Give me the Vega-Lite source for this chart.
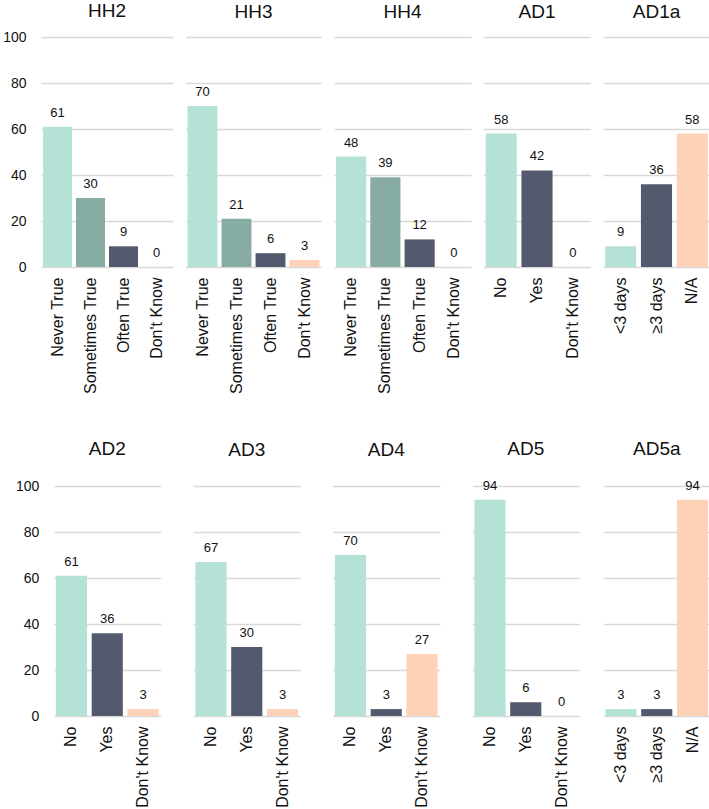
{
  "$schema": "https://vega.github.io/schema/vega-lite/v6.json",
  "padding": {"left": 2, "top": 2, "right": 0, "bottom": 0},
  "background": "white",
  "data": {"values": [
    {"q": "HH2", "cat": "Never True", "v": 61},
    {"q": "HH2", "cat": "Sometimes True", "v": 30},
    {"q": "HH2", "cat": "Often True", "v": 9},
    {"q": "HH2", "cat": "Don't Know", "v": 0},
    {"q": "HH3", "cat": "Never True", "v": 70},
    {"q": "HH3", "cat": "Sometimes True", "v": 21},
    {"q": "HH3", "cat": "Often True", "v": 6},
    {"q": "HH3", "cat": "Don't Know", "v": 3},
    {"q": "HH4", "cat": "Never True", "v": 48},
    {"q": "HH4", "cat": "Sometimes True", "v": 39},
    {"q": "HH4", "cat": "Often True", "v": 12},
    {"q": "HH4", "cat": "Don't Know", "v": 0},
    {"q": "AD1", "cat": "No", "v": 58},
    {"q": "AD1", "cat": "Yes", "v": 42},
    {"q": "AD1", "cat": "Don't Know", "v": 0},
    {"q": "AD1a", "cat": "<3 days", "v": 9},
    {"q": "AD1a", "cat": "≥3 days", "v": 36},
    {"q": "AD1a", "cat": "N/A", "v": 58},
    {"q": "AD2", "cat": "No", "v": 61},
    {"q": "AD2", "cat": "Yes", "v": 36},
    {"q": "AD2", "cat": "Don't Know", "v": 3},
    {"q": "AD3", "cat": "No", "v": 67},
    {"q": "AD3", "cat": "Yes", "v": 30},
    {"q": "AD3", "cat": "Don't Know", "v": 3},
    {"q": "AD4", "cat": "No", "v": 70},
    {"q": "AD4", "cat": "Yes", "v": 3},
    {"q": "AD4", "cat": "Don't Know", "v": 27},
    {"q": "AD5", "cat": "No", "v": 94},
    {"q": "AD5", "cat": "Yes", "v": 6},
    {"q": "AD5", "cat": "Don't Know", "v": 0},
    {"q": "AD5a", "cat": "<3 days", "v": 3},
    {"q": "AD5a", "cat": "≥3 days", "v": 3},
    {"q": "AD5a", "cat": "N/A", "v": 94}
  ]},
  "config": {
    "font": "Liberation Sans",
    "view": {"stroke": null},
    "axisX": {"labelAngle": -90, "labelFontSize": 16, "labelColor": "#111111", "domain": false, "ticks": false, "labelPadding": 10, "title": null, "grid": false, "labelLimit": 300},
    "axisY": {"labels": false, "labelFontSize": 14, "labelColor": "#111111", "labelPadding": 15, "domain": false, "ticks": false, "grid": true, "gridColor": "#d9d9d9", "gridWidth": 1.5, "title": null, "values": [0, 20, 40, 60, 80, 100]},
    "title": {"fontSize": 19, "fontWeight": "normal", "color": "#111111", "baseline": "alphabetic", "frame": "group", "anchor": "middle"}
  },
  "center": true,
  "spacing": 46,
  "vconcat": [
    {
      "spacing": 12.5,
      "bounds": "flush",
      "hconcat": [
        {"width": 132, "height": 230, "title": {"text": "HH2", "offset": 9},
         "transform": [{"filter": "datum.q === 'HH2'"}],
         "encoding": {"x": {"field": "cat", "type": "nominal", "sort": null, "scale": {"paddingInner": 0.12, "paddingOuter": 0.06}},
                      "y": {"field": "v", "type": "quantitative", "scale": {"domain": [0, 100]}, "axis": {"labels": true}}},
         "layer": [
           {"mark": {"type": "bar"}, "encoding": {"color": {"field": "cat", "type": "nominal", "legend": null, "scale": {"domain": ["Never True", "Sometimes True", "Often True", "Don't Know", "No", "Yes", "<3 days", "≥3 days", "N/A"], "range": ["#b5e2d7", "#86aca4", "#535a6e", "#fdd2b7", "#b5e2d7", "#535a6e", "#b5e2d7", "#535a6e", "#fdd2b7"]}}}},
           {"mark": {"type": "text", "dy": -10, "baseline": "alphabetic", "fontSize": 13, "color": "#111111"}, "encoding": {"text": {"field": "v", "type": "quantitative"}}}
         ]},
        {"width": 136, "height": 230, "title": {"text": "HH3", "offset": 15.25},
         "transform": [{"filter": "datum.q === 'HH3'"}],
         "encoding": {"x": {"field": "cat", "type": "nominal", "sort": null, "scale": {"paddingInner": 0.12, "paddingOuter": 0.06}},
                      "y": {"field": "v", "type": "quantitative", "scale": {"domain": [0, 100]}}},
         "layer": [
           {"mark": {"type": "bar"}, "encoding": {"color": {"field": "cat", "type": "nominal", "legend": null, "scale": {"domain": ["Never True", "Sometimes True", "Often True", "Don't Know", "No", "Yes", "<3 days", "≥3 days", "N/A"], "range": ["#b5e2d7", "#86aca4", "#535a6e", "#fdd2b7", "#b5e2d7", "#535a6e", "#b5e2d7", "#535a6e", "#fdd2b7"]}}}},
           {"mark": {"type": "text", "dy": -10, "baseline": "alphabetic", "fontSize": 13, "color": "#111111"}, "encoding": {"text": {"field": "v", "type": "quantitative"}}}
         ]},
        {"width": 137, "height": 230, "title": {"text": "HH4", "offset": 15.25},
         "transform": [{"filter": "datum.q === 'HH4'"}],
         "encoding": {"x": {"field": "cat", "type": "nominal", "sort": null, "scale": {"paddingInner": 0.12, "paddingOuter": 0.06}},
                      "y": {"field": "v", "type": "quantitative", "scale": {"domain": [0, 100]}}},
         "layer": [
           {"mark": {"type": "bar"}, "encoding": {"color": {"field": "cat", "type": "nominal", "legend": null, "scale": {"domain": ["Never True", "Sometimes True", "Often True", "Don't Know", "No", "Yes", "<3 days", "≥3 days", "N/A"], "range": ["#b5e2d7", "#86aca4", "#535a6e", "#fdd2b7", "#b5e2d7", "#535a6e", "#b5e2d7", "#535a6e", "#fdd2b7"]}}}},
           {"mark": {"type": "text", "dy": -10, "baseline": "alphabetic", "fontSize": 13, "color": "#111111"}, "encoding": {"text": {"field": "v", "type": "quantitative"}}}
         ]},
        {"width": 107, "height": 230, "title": {"text": "AD1", "offset": 15.25},
         "transform": [{"filter": "datum.q === 'AD1'"}],
         "encoding": {"x": {"field": "cat", "type": "nominal", "sort": null, "scale": {"paddingInner": 0.13, "paddingOuter": 0.06}},
                      "y": {"field": "v", "type": "quantitative", "scale": {"domain": [0, 100]}}},
         "layer": [
           {"mark": {"type": "bar"}, "encoding": {"color": {"field": "cat", "type": "nominal", "legend": null, "scale": {"domain": ["Never True", "Sometimes True", "Often True", "Don't Know", "No", "Yes", "<3 days", "≥3 days", "N/A"], "range": ["#b5e2d7", "#86aca4", "#535a6e", "#fdd2b7", "#b5e2d7", "#535a6e", "#b5e2d7", "#535a6e", "#fdd2b7"]}}}},
           {"mark": {"type": "text", "dy": -10, "baseline": "alphabetic", "fontSize": 13, "color": "#111111"}, "encoding": {"text": {"field": "v", "type": "quantitative"}}}
         ]},
        {"width": 107, "height": 230, "title": {"text": "AD1a", "offset": 15.25},
         "transform": [{"filter": "datum.q === 'AD1a'"}],
         "encoding": {"x": {"field": "cat", "type": "nominal", "sort": null, "scale": {"paddingInner": 0.13, "paddingOuter": 0.06}},
                      "y": {"field": "v", "type": "quantitative", "scale": {"domain": [0, 100]}, "axis": {"orient": "right", "ticks": true, "tickSize": 13, "tickOpacity": 0}}},
         "layer": [
           {"mark": {"type": "bar"}, "encoding": {"color": {"field": "cat", "type": "nominal", "legend": null, "scale": {"domain": ["Never True", "Sometimes True", "Often True", "Don't Know", "No", "Yes", "<3 days", "≥3 days", "N/A"], "range": ["#b5e2d7", "#86aca4", "#535a6e", "#fdd2b7", "#b5e2d7", "#535a6e", "#b5e2d7", "#535a6e", "#fdd2b7"]}}}},
           {"mark": {"type": "text", "dy": -10, "baseline": "alphabetic", "fontSize": 13, "color": "#111111"}, "encoding": {"text": {"field": "v", "type": "quantitative"}}}
         ]}
      ]
    },
    {
      "spacing": 23.5,
      "hconcat": [
        {
          "spacing": 32.5,
          "bounds": "flush",
          "hconcat": [
            {"width": 107, "height": 230, "title": {"text": "AD2", "offset": 20},
             "transform": [{"filter": "datum.q === 'AD2'"}],
             "encoding": {"x": {"field": "cat", "type": "nominal", "sort": null, "scale": {"paddingInner": 0.13, "paddingOuter": 0.06}},
                          "y": {"field": "v", "type": "quantitative", "scale": {"domain": [0, 100]}, "axis": {"labels": true}}},
             "layer": [
               {"mark": {"type": "bar"}, "encoding": {"color": {"field": "cat", "type": "nominal", "legend": null, "scale": {"domain": ["Never True", "Sometimes True", "Often True", "Don't Know", "No", "Yes", "<3 days", "≥3 days", "N/A"], "range": ["#b5e2d7", "#86aca4", "#535a6e", "#fdd2b7", "#b5e2d7", "#535a6e", "#b5e2d7", "#535a6e", "#fdd2b7"]}}}},
               {"mark": {"type": "text", "dy": -10, "baseline": "alphabetic", "fontSize": 13, "color": "#111111"}, "encoding": {"text": {"field": "v", "type": "quantitative"}}}
             ]},
            {"width": 107, "height": 230, "title": {"text": "AD3", "offset": 26.25},
             "transform": [{"filter": "datum.q === 'AD3'"}],
             "encoding": {"x": {"field": "cat", "type": "nominal", "sort": null, "scale": {"paddingInner": 0.13, "paddingOuter": 0.06}},
                          "y": {"field": "v", "type": "quantitative", "scale": {"domain": [0, 100]}}},
             "layer": [
               {"mark": {"type": "bar"}, "encoding": {"color": {"field": "cat", "type": "nominal", "legend": null, "scale": {"domain": ["Never True", "Sometimes True", "Often True", "Don't Know", "No", "Yes", "<3 days", "≥3 days", "N/A"], "range": ["#b5e2d7", "#86aca4", "#535a6e", "#fdd2b7", "#b5e2d7", "#535a6e", "#b5e2d7", "#535a6e", "#fdd2b7"]}}}},
               {"mark": {"type": "text", "dy": -10, "baseline": "alphabetic", "fontSize": 13, "color": "#111111"}, "encoding": {"text": {"field": "v", "type": "quantitative"}}}
             ]},
            {"width": 107, "height": 230, "title": {"text": "AD4", "offset": 26.25},
             "transform": [{"filter": "datum.q === 'AD4'"}],
             "encoding": {"x": {"field": "cat", "type": "nominal", "sort": null, "scale": {"paddingInner": 0.13, "paddingOuter": 0.06}},
                          "y": {"field": "v", "type": "quantitative", "scale": {"domain": [0, 100]}}},
             "layer": [
               {"mark": {"type": "bar"}, "encoding": {"color": {"field": "cat", "type": "nominal", "legend": null, "scale": {"domain": ["Never True", "Sometimes True", "Often True", "Don't Know", "No", "Yes", "<3 days", "≥3 days", "N/A"], "range": ["#b5e2d7", "#86aca4", "#535a6e", "#fdd2b7", "#b5e2d7", "#535a6e", "#b5e2d7", "#535a6e", "#fdd2b7"]}}}},
               {"mark": {"type": "text", "dy": -10, "baseline": "alphabetic", "fontSize": 13, "color": "#111111"}, "encoding": {"text": {"field": "v", "type": "quantitative"}}}
             ]},
            {"width": 107, "height": 230, "title": {"text": "AD5", "offset": 20.4},
             "transform": [{"filter": "datum.q === 'AD5'"}],
             "encoding": {"x": {"field": "cat", "type": "nominal", "sort": null, "scale": {"paddingInner": 0.13, "paddingOuter": 0.06}},
                          "y": {"field": "v", "type": "quantitative", "scale": {"domain": [0, 100]}}},
             "layer": [
               {"mark": {"type": "bar"}, "encoding": {"color": {"field": "cat", "type": "nominal", "legend": null, "scale": {"domain": ["Never True", "Sometimes True", "Often True", "Don't Know", "No", "Yes", "<3 days", "≥3 days", "N/A"], "range": ["#b5e2d7", "#86aca4", "#535a6e", "#fdd2b7", "#b5e2d7", "#535a6e", "#b5e2d7", "#535a6e", "#fdd2b7"]}}}},
               {"mark": {"type": "text", "dy": -10, "baseline": "alphabetic", "fontSize": 13, "color": "#111111"}, "encoding": {"text": {"field": "v", "type": "quantitative"}}}
             ]}
          ]
        },
        {"width": 107, "height": 230, "title": {"text": "AD5a", "offset": 20.4},
         "transform": [{"filter": "datum.q === 'AD5a'"}],
         "encoding": {"x": {"field": "cat", "type": "nominal", "sort": null, "scale": {"paddingInner": 0.13, "paddingOuter": 0.06}},
                      "y": {"field": "v", "type": "quantitative", "scale": {"domain": [0, 100]}}},
         "layer": [
           {"mark": {"type": "bar"}, "encoding": {"color": {"field": "cat", "type": "nominal", "legend": null, "scale": {"domain": ["Never True", "Sometimes True", "Often True", "Don't Know", "No", "Yes", "<3 days", "≥3 days", "N/A"], "range": ["#b5e2d7", "#86aca4", "#535a6e", "#fdd2b7", "#b5e2d7", "#535a6e", "#b5e2d7", "#535a6e", "#fdd2b7"]}}}},
           {"mark": {"type": "text", "dy": -10, "baseline": "alphabetic", "fontSize": 13, "color": "#111111"}, "encoding": {"text": {"field": "v", "type": "quantitative"}}}
         ]}
      ]
    }
  ]
}
